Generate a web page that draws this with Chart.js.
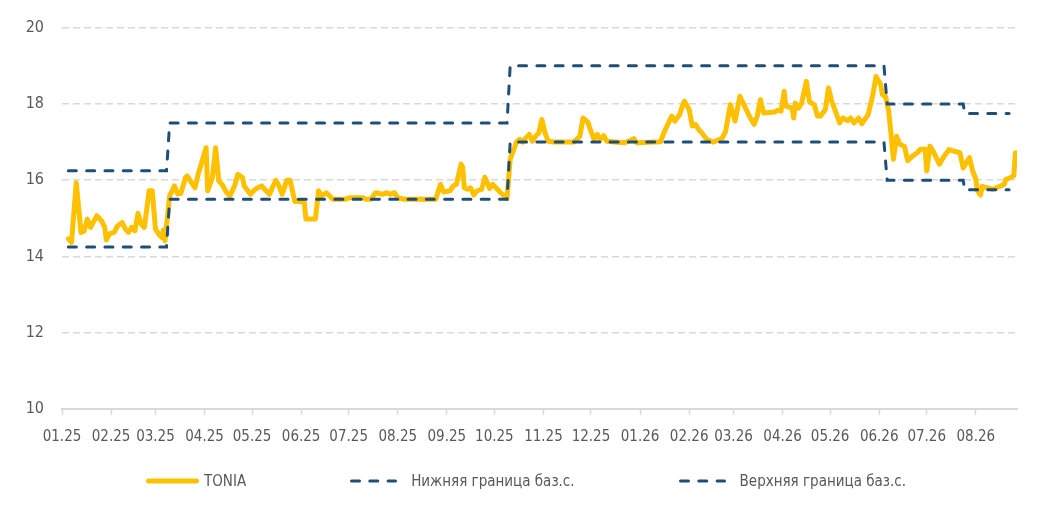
<!DOCTYPE html>
<html>
<head>
<meta charset="utf-8">
<script src="https://cdn.jsdelivr.net/npm/chart.js@4.4.1/dist/chart.umd.min.js"></script>
<style>
  html, body { margin: 0; padding: 0; background: #fff; }
  #wrap { position: relative; width: 1052px; height: 510px; }
  #legend {
    position: absolute; left: 0; top: 470px; width: 1052px; height: 22px;
    display: flex; justify-content: center; align-items: center; gap: 104px;
    font: 15px 'Liberation Sans Narrow', 'DejaVu Sans Condensed', sans-serif; color: #595959;
  }
  .item { display: flex; align-items: center; }
</style>
</head>
<body>
<div id="wrap">
  <canvas id="toniaChart"></canvas>
  <div id="legend"></div>
</div>
<script>
// month labels on the x axis (MM.YY)
const tickLabels = ['01.25', '02.25', '03.25', '04.25', '05.25', '06.25', '07.25', '08.25', '09.25', '10.25',
  '11.25', '12.25', '01.26', '02.26', '03.26', '04.26', '05.26', '06.26', '07.26', '08.26'];

// TONIA, days since 01.01.2025 and rate, %
const toniaDays = [4, 6, 9, 12, 14, 16, 18, 22, 25, 27, 28, 30, 33, 35, 38, 40, 42, 44, 46, 48,
  50, 52, 55, 57, 59, 61, 63, 64, 65, 68, 71, 73, 75, 78, 79, 84, 86, 91, 92, 95,
  97, 99, 101, 104, 106, 109, 111, 114, 115, 119, 122, 126, 128, 131, 135, 137, 139, 142, 144, 147,
  150, 153, 154, 160, 162, 164, 167, 171, 179, 182, 190, 192, 195, 198, 202, 205, 207, 210, 212, 216,
  236, 239, 241, 245, 247, 249, 252, 253, 254, 256, 258, 260, 262, 265, 267, 270, 272, 277, 281, 283,
  287, 289, 291, 293, 295, 297, 299, 301, 303, 305, 307, 311, 323, 327, 329, 332, 334, 336, 338, 340,
  342, 344, 349, 355, 359, 361, 363, 378, 380, 382, 385, 387, 390, 392, 393, 396, 398, 400, 402, 404,
  407, 411, 414, 417, 419, 422, 425, 428, 431, 434, 437, 439, 441, 443, 450, 452, 454, 456, 457, 461,
  462, 463, 465, 467, 470, 472, 475, 477, 479, 482, 484, 486, 488, 491, 493, 496, 498, 500, 503, 505,
  509, 512, 514, 517, 518, 520, 522, 525, 527, 529, 532, 534, 537, 540, 542, 545, 546, 548, 550, 554,
  557, 560, 564, 567, 569, 573, 575, 577, 578, 580, 581, 584, 588, 591, 595, 596, 599, 601, 602];
const toniaValues = [14.46, 14.37, 15.93, 14.63, 14.67, 14.98, 14.76, 15.07, 14.93, 14.76, 14.43, 14.59, 14.63, 14.80, 14.89, 14.72, 14.63, 14.76, 14.67, 15.13,
  14.85, 14.76, 15.72, 15.72, 14.72, 14.59, 14.50, 14.69, 14.41, 15.59, 15.85, 15.64, 15.65, 16.07, 16.11, 15.80, 16.16, 16.85, 15.72, 16.07,
  16.85, 15.98, 15.89, 15.67, 15.59, 15.85, 16.15, 16.07, 15.85, 15.63, 15.76, 15.85, 15.76, 15.63, 16.00, 15.85, 15.63, 16.00, 16.00, 15.44,
  15.44, 15.41, 14.98, 14.98, 15.72, 15.59, 15.67, 15.50, 15.50, 15.54, 15.54, 15.50, 15.50, 15.67, 15.63, 15.67, 15.63, 15.67, 15.54, 15.50,
  15.50, 15.89, 15.69, 15.72, 15.85, 15.89, 16.42, 16.34, 15.80, 15.76, 15.80, 15.61, 15.72, 15.76, 16.08, 15.78, 15.89, 15.67, 15.52, 16.55,
  17.00, 17.07, 17.00, 17.11, 17.20, 17.02, 17.15, 17.23, 17.59, 17.24, 17.02, 17.00, 17.00, 17.15, 17.63, 17.52, 17.28, 17.07, 17.20, 17.07,
  17.17, 17.02, 17.00, 16.98, 17.04, 17.09, 16.98, 17.01, 17.24, 17.42, 17.68, 17.55, 17.72, 17.98, 18.07, 17.85, 17.42, 17.46, 17.33, 17.24,
  17.07, 17.00, 17.04, 17.11, 17.28, 17.98, 17.55, 18.20, 17.94, 17.68, 17.46, 17.68, 18.11, 17.76, 17.79, 17.83, 17.81, 18.33, 17.94, 17.89,
  17.63, 18.02, 17.89, 18.02, 18.59, 18.05, 17.98, 17.68, 17.68, 17.85, 18.42, 18.07, 17.85, 17.50, 17.63, 17.56, 17.63, 17.50, 17.63, 17.48,
  17.72, 18.24, 18.72, 18.50, 18.24, 18.20, 17.81, 16.55, 17.15, 16.94, 16.88, 16.51, 16.63, 16.72, 16.81, 16.81, 16.24, 16.89, 16.76, 16.42,
  16.63, 16.80, 16.75, 16.72, 16.32, 16.59, 16.24, 16.03, 15.72, 15.61, 15.84, 15.80, 15.76, 15.82, 15.89, 16.02, 16.07, 16.12, 16.72];

// base rate corridor, days since 01.01.2025
const corridorDays = [4, 66, 68, 281, 283, 519, 521, 569, 570, 598];
const lowerBound = [14.25, 14.25, 15.5, 15.5, 17, 17, 16, 16, 15.75, 15.75];
const upperBound = [16.25, 16.25, 17.5, 17.5, 19, 19, 18, 18, 17.75, 17.75];

const DAY = 86400000;
const START = Date.UTC(2025, 0, 1);
const tickDays = tickLabels.map(function (l) {
  const p = l.split('.');
  return (Date.UTC(2000 + Number(p[1]), Number(p[0]) - 1, 1) - START) / DAY;
});

function points(xs, ys) {
  return xs.map(function (x, i) { return { x: x, y: ys[i] }; });
}

const FONT = "'Liberation Sans Narrow', 'DejaVu Sans Condensed', sans-serif";
Chart.defaults.font.family = FONT;
Chart.defaults.color = '#595959';

const ctx = document.getElementById('toniaChart').getContext('2d');
const toniaChart = new Chart(ctx, {
  type: 'line',
  data: {
    datasets: [{
      label: 'TONIA',
      data: points(toniaDays, toniaValues),
      borderColor: '#FFC000',
      borderWidth: 5,
      borderCapStyle: 'round',
      borderJoinStyle: 'round',
      order: 1
    }, {
      label: 'Нижняя граница баз.с.',
      data: points(corridorDays, lowerBound),
      borderColor: '#1F4E79',
      borderWidth: 3,
      borderDash: [8, 10.3],
      borderCapStyle: 'round',
      order: 0
    }, {
      label: 'Верхняя граница баз.с.',
      data: points(corridorDays, upperBound),
      borderColor: '#1F4E79',
      borderWidth: 3,
      borderDash: [8, 10.3],
      borderCapStyle: 'round',
      order: 0
    }]
  },
  options: {
    responsive: true,
    maintainAspectRatio: false,
    animation: false,
    layout: { padding: { top: 26, right: 35, bottom: 61, left: 0 } },
    elements: { point: { radius: 0 }, line: { tension: 0 } },
    plugins: { legend: { display: false }, tooltip: { enabled: false } },
    scales: {
      x: {
        type: 'linear',
        min: 0,
        max: 603,
        afterBuildTicks: function (s) { s.ticks = tickDays.map(function (v) { return { value: v }; }); },
        afterFit: function (s) { s.height = 40; },
        ticks: {
          autoSkip: false,
          maxRotation: 0,
          padding: 13,
          font: { size: 15 },
          color: '#595959',
          callback: function (v, i) { return tickLabels[i]; }
        },
        grid: { drawOnChartArea: false, drawTicks: true, tickLength: 6, tickColor: '#D9D9D9', tickWidth: 1.5 },
        border: { display: true, color: '#D9D9D9', width: 2 }
      },
      y: {
        min: 10,
        max: 20,
        afterFit: function (s) { s.width = 62; },
        ticks: { stepSize: 2, padding: 18, font: { size: 16 }, color: '#595959' },
        grid: { color: '#D9D9D9', lineWidth: 1.5, drawTicks: false },
        border: { display: false, dash: [7, 4] }
      }
    }
  }
});

// html legend built from the datasets
const legendEl = document.getElementById('legend');
toniaChart.data.datasets.forEach(function (ds) {
  const dashed = ds.borderDash && ds.borderDash.length;
  const w = dashed ? 47 : 53;
  const half = ds.borderWidth / 2;
  const item = document.createElement('div');
  item.className = 'item';
  item.innerHTML =
    '<svg width="' + w + '" height="10" style="margin-right:' + (dashed ? 14 : 5) + 'px">' +
    '<line x1="' + half + '" y1="5" x2="' + (w - half) + '" y2="5" stroke="' + ds.borderColor +
    '" stroke-width="' + ds.borderWidth + '" stroke-linecap="round"' +
    (dashed ? ' stroke-dasharray="' + ds.borderDash.join(' ') + '"' : '') + '/></svg>' +
    '<span>' + ds.label + '</span>';
  legendEl.appendChild(item);
});
</script>
</body>
</html>
